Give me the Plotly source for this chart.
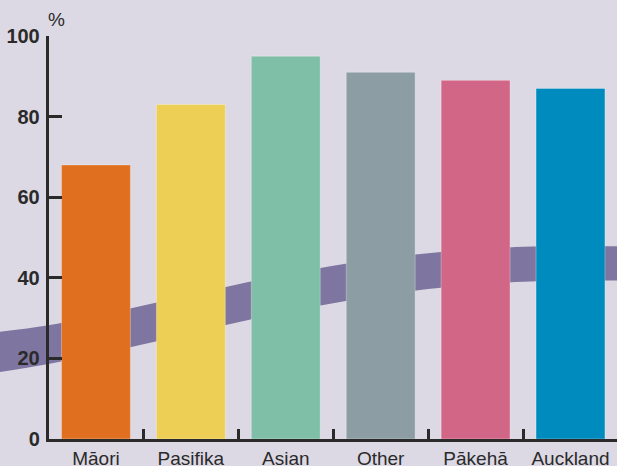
import plotly.graph_objects as go

categories = ["Māori", "Pasifika", "Asian", "Other", "Pākehā", "Auckland"]
values = [68, 83, 95, 91, 89, 87]
colors = ["#E07020", "#EDCF55", "#7FBFA8", "#8C9DA3", "#D26687", "#008BBF"]

# decorative background band (in category-index / percent units)
band_x = [-1.01, -0.5, 0.5, 1.5, 2.5, 3.5, 4.5, 5.5]
band_upper = [26.6, 28.2, 33.1, 38.4, 43.0, 46.1, 47.7, 47.8]
band_lower = [16.6, 18.6, 23.5, 29.0, 33.7, 37.2, 39.0, 39.3]

y_ticks = [0, 20, 40, 60, 80, 100]

BG = "#DCD9E4"
INK = "#2a2a2a"
BAND = "#7E76A0"
FONT = "Liberation Sans, Arial, sans-serif"
NARROW = "Liberation Sans Narrow, Liberation Sans, Arial, sans-serif"

xs = list(range(len(categories)))

fig = go.Figure()

fig.add_trace(go.Scatter(
    x=band_x, y=band_lower, mode="lines", line=dict(width=0, color=BAND, shape="spline"),
    xaxis="x", yaxis="y", hoverinfo="skip", showlegend=False))
fig.add_trace(go.Scatter(
    x=band_x, y=band_upper, mode="lines", line=dict(width=0, color=BAND, shape="spline"),
    fill="tonexty", fillcolor=BAND,
    xaxis="x", yaxis="y", hoverinfo="skip", showlegend=False))

fig.add_trace(go.Bar(
    x=xs, y=values, width=0.726,
    marker=dict(color=colors, line=dict(width=1, color="rgba(255,255,255,0.3)")),
    xaxis="x2", yaxis="y", showlegend=False))

y_axis_frac = 48.5 / 617

fig.update_layout(
    width=617, height=466, autosize=False,
    margin=dict(l=0, r=0, t=36, b=27, autoexpand=False),
    paper_bgcolor=BG, plot_bgcolor="rgba(0,0,0,0)",
    font=dict(family=FONT, color=INK),
    xaxis=dict(domain=[0, 1], range=[-1.01, 5.49], visible=False, anchor="y",
               fixedrange=True, automargin=False),
    xaxis2=dict(domain=[y_axis_frac, 1], range=[-0.5, 5.49], anchor="y",
                automargin=False,
                showline=True, linecolor=INK, linewidth=2.5,
                tickmode="array", tickvals=xs, ticktext=categories,
                ticks="", ticklabelstandoff=0,
                tickfont=dict(size=19, color=INK, family=FONT),
                showgrid=False, zeroline=False,
                minor=dict(tickmode="array", tickvals=[0.5, 1.5, 2.5, 3.5, 4.5, 5.5],
                           ticks="inside", ticklen=10, tickwidth=2.5, tickcolor=INK,
                           showgrid=False)),
    yaxis=dict(anchor="x2", range=[0, 100], automargin=False,
               showline=True, linecolor=INK, linewidth=2.5,
               tickmode="array", tickvals=y_ticks, ticks="inside", ticklen=14,
               tickwidth=2.5, tickcolor=INK, showgrid=False, zeroline=False,
               ticklabelstandoff=2,
               tickfont=dict(size=20, color=INK, family=NARROW, weight="bold")),
    annotations=[dict(text="%", xref="x2", yref="y", x=-0.5, y=100,
                      xanchor="left", yanchor="bottom", yshift=4, xshift=-3,
                      showarrow=False,
                      font=dict(size=19, color=INK, family=FONT))],
)

fig.write_html("out.html", config={"displayModeBar": False},
               post_script="document.body.style.margin='0';document.body.style.padding='0';")
